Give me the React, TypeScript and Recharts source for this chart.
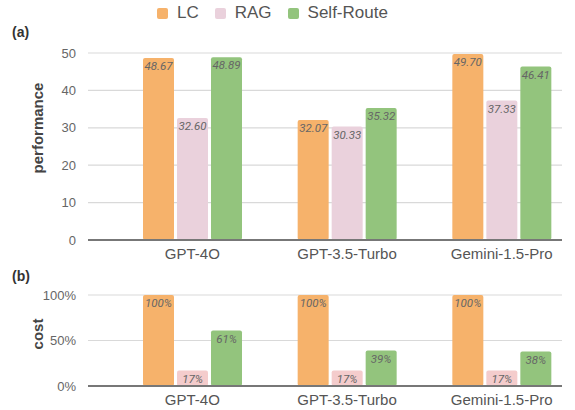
import React from 'react';
import { BarChart, Bar, XAxis, YAxis, CartesianGrid, LabelList, Legend } from 'recharts';

const models = ['GPT-4O', 'GPT-3.5-Turbo', 'Gemini-1.5-Pro'];
const seriesNames = ['LC', 'RAG', 'Self-Route'];
const lcPerf = [48.67, 32.07, 49.7];
const ragPerf = [32.6, 30.33, 37.33];
const selfRoutePerf = [48.89, 35.32, 46.41];
const lcCost = [100, 100, 100];
const ragCost = [17, 17, 17];
const selfRouteCost = [61, 39, 38];
const perfTicks = [0, 10, 20, 30, 40, 50];
const costTicks = [0, 50, 100];

const perfData = models.map((m, i) => ({ model: m, lc: lcPerf[i], rag: ragPerf[i], sr: selfRoutePerf[i] }));
const costData = models.map((m, i) => ({ model: m, lc: lcCost[i], rag: ragCost[i], sr: selfRouteCost[i] }));

const FONT = '"Liberation Sans", Arial, sans-serif';
const C_LC = '#f6b26b';
const C_RAG = '#ead1dc';
const C_RAG2 = '#f4cccc';
const C_SR = '#93c47d';

const labelStyle = { fill: '#666', fontSize: 11.5, fontStyle: 'italic', fontFamily: 'Roboto, sans-serif' };
const tickStyle = { fill: '#666', fontSize: 13, fontFamily: FONT };
const xTickStyle = { fill: '#555', fontSize: 15, fontFamily: FONT };

const LegendContent = (props: any) => {
  const payload = props.payload || [];
  return (
    <div style={{ display: 'flex', alignItems: 'center', fontFamily: FONT, fontSize: 17, color: '#555' }}>
      {payload.map((p: any, i: number) => (
        <div key={i} style={{ display: 'flex', alignItems: 'center', marginRight: 16 }}>
          <span style={{ display: 'inline-block', width: 11, height: 11, borderRadius: 2, background: p.color, marginRight: 9 }} />
          <span>{p.value}</span>
        </div>
      ))}
    </div>
  );
};

const AxisTitle = (text: string, x: number, y: number, size: number) => () => (
  <text
    x={x}
    y={y}
    transform={`rotate(-90 ${x} ${y})`}
    textAnchor="middle"
    dominantBaseline="central"
    fontFamily={FONT}
    fontWeight="bold"
    fontSize={size}
    fill="#444"
  >
    {text}
  </text>
);

export default function App() {
  return (
    <div style={{ position: 'absolute', left: 0, top: 0, width: 575, height: 410, background: '#fff' }}>
      <div style={{ position: 'absolute', left: 12, top: 24, fontFamily: FONT, fontWeight: 'bold', fontSize: 14, color: '#333' }}>(a)</div>
      <div style={{ position: 'absolute', left: 12, top: 268, fontFamily: FONT, fontWeight: 'bold', fontSize: 14, color: '#333' }}>(b)</div>
      <div style={{ position: 'absolute', left: 0, top: 0 }}>
        <BarChart width={575} height={265} data={perfData} margin={{ top: 53, right: 13, left: 28, bottom: 5 }} barSize={31} barGap={3}>
          <CartesianGrid vertical={false} stroke="#d9d9d9" strokeWidth={1.2} />
          <XAxis
            dataKey="model"
            height={20}
            tick={xTickStyle}
            tickLine={false}
            axisLine={{ stroke: '#777', strokeWidth: 2 }}
            padding={{ left: 27, right: -17 }}
          />
          <YAxis
            width={60}
            domain={[0, 50]}
            ticks={perfTicks}
            tick={tickStyle}
            tickLine={false}
            axisLine={false}
            tickMargin={6}
            label={{ content: AxisTitle('performance', 37, 128, 15) }}
          />
          <Legend
            verticalAlign="middle"
            align="center"
            content={LegendContent}
            wrapperStyle={{ top: 3, left: 157, width: 'auto' }}
          />
          <Bar dataKey="lc" name={seriesNames[0]} fill={C_LC} radius={2} isAnimationActive={false}>
            <LabelList dataKey="lc" position="insideTop" offset={4} style={labelStyle} formatter={(v: any) => Number(v).toFixed(2)} />
          </Bar>
          <Bar dataKey="rag" name={seriesNames[1]} fill={C_RAG} radius={2} isAnimationActive={false}>
            <LabelList dataKey="rag" position="insideTop" offset={4} style={labelStyle} formatter={(v: any) => Number(v).toFixed(2)} />
          </Bar>
          <Bar dataKey="sr" name={seriesNames[2]} fill={C_SR} radius={2} isAnimationActive={false}>
            <LabelList dataKey="sr" position="insideTop" offset={4} style={labelStyle} formatter={(v: any) => Number(v).toFixed(2)} />
          </Bar>
        </BarChart>
      </div>
      <div style={{ position: 'absolute', left: 0, top: 265 }}>
        <BarChart width={575} height={145} data={costData} margin={{ top: 30, right: 13, left: 28, bottom: 4 }} barSize={31} barGap={3}>
          <CartesianGrid vertical={false} stroke="#d9d9d9" strokeWidth={1.2} />
          <XAxis
            dataKey="model"
            height={20}
            tick={xTickStyle}
            tickLine={false}
            axisLine={{ stroke: '#777', strokeWidth: 2 }}
            padding={{ left: 27, right: -17 }}
          />
          <YAxis
            width={60}
            domain={[0, 100]}
            ticks={costTicks}
            tick={tickStyle}
            tickLine={false}
            axisLine={false}
            tickMargin={6}
            tickFormatter={(v: any) => `${v}%`}
            label={{ content: AxisTitle('cost', 37, 69, 15) }}
          />
          <Bar dataKey="lc" name={seriesNames[0]} fill={C_LC} radius={2} isAnimationActive={false}>
            <LabelList dataKey="lc" position="insideTop" offset={4} style={labelStyle} formatter={(v: any) => `${v}%`} />
          </Bar>
          <Bar dataKey="rag" name={seriesNames[1]} fill={C_RAG2} radius={2} isAnimationActive={false}>
            <LabelList dataKey="rag" position="insideTop" offset={4} style={labelStyle} formatter={(v: any) => `${v}%`} />
          </Bar>
          <Bar dataKey="sr" name={seriesNames[2]} fill={C_SR} radius={2} isAnimationActive={false}>
            <LabelList dataKey="sr" position="insideTop" offset={4} style={labelStyle} formatter={(v: any) => `${v}%`} />
          </Bar>
        </BarChart>
      </div>
    </div>
  );
}
